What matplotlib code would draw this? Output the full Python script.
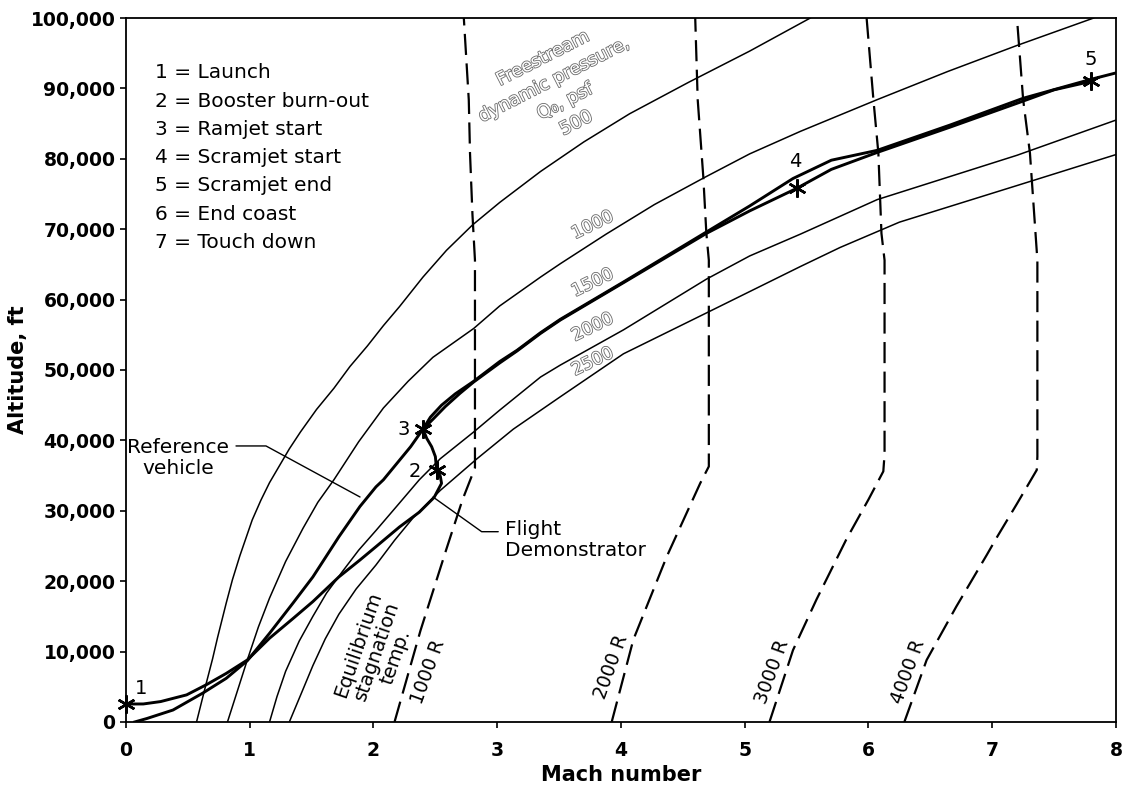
"""
Altitude vs Mach number: flight demonstrator and reference vehicle
trajectories over lines of constant dynamic pressure and constant
equilibrium stagnation temperature.
"""
import matplotlib
matplotlib.use("Agg")
import matplotlib.pyplot as plt
import matplotlib.patheffects as pe
from matplotlib.ticker import FuncFormatter

# lines of constant freestream dynamic pressure Q0, psf
q500_mach = [0.57, 0.61, 0.65, 0.70, 0.74, 0.81, 0.86, 0.92, 1.02, 1.09, 1.16, 1.24,
             1.32, 1.41, 1.54, 1.68, 1.81, 1.95, 2.08, 2.21, 2.40, 2.59, 2.80, 3.02,
             3.35, 3.70, 4.07, 4.55, 5.04, 5.53]
q500_alt = [0, 2800, 5600, 9000, 12000, 16900, 20200, 23600, 28700, 31500, 34000, 36400,
            38800, 41200, 44400, 47400, 50500, 53400, 56300, 59000, 63200, 67000, 70600, 73800,
            78200, 82400, 86400, 90900, 95300, 100000]

q1000_mach = [0.82, 0.90, 0.98, 1.07, 1.16, 1.29, 1.43, 1.55, 1.68, 1.88, 2.08, 2.28,
              2.48, 2.81, 3.02, 3.35, 3.51, 3.88, 4.27, 4.67, 5.04, 5.45, 6.07, 6.64,
              7.20, 7.82]
q1000_alt = [0, 4400, 8800, 13500, 17600, 22800, 27500, 31200, 34400, 39800, 44600, 48400,
             51800, 55900, 59100, 63200, 65100, 69300, 73500, 77300, 80700, 83900, 88400, 92400,
             96100, 100000]

q2000_mach = [1.16, 1.22, 1.29, 1.40, 1.51, 1.62, 1.75, 1.88, 2.02, 2.21, 2.37, 2.54,
              2.81, 3.02, 3.35, 3.51, 4.02, 4.69, 5.04, 5.45, 6.07, 7.20, 8.00]
q2000_alt = [0, 3600, 7200, 11500, 15000, 18300, 21400, 24400, 27200, 31100, 34400, 37400,
             41200, 44300, 49000, 50700, 55700, 62900, 66200, 69300, 74200, 80500, 85500]

q2500_mach = [1.32, 1.42, 1.51, 1.61, 1.72, 1.86, 2.02, 2.17, 2.32, 2.54, 2.83, 3.13,
              3.51, 4.02, 4.69, 5.45, 5.77, 6.25, 7.20, 8.00]
q2500_alt = [0, 4200, 8000, 11800, 15300, 18900, 22300, 25800, 29000, 32900, 37300, 41600,
             46200, 52300, 58100, 64700, 67400, 71000, 76200, 80600]

q_labels = ["1000", "1500", "2000", "2500"]
q_label_mach = [3.77, 3.77, 3.77, 3.77]
q_label_alt = [70600, 62400, 56100, 51200]

# lines of constant equilibrium stagnation temperature, deg R
t1000_mach = [2.17, 2.38, 2.59, 2.72, 2.82, 2.82, 2.80, 2.78, 2.77, 2.73]
t1000_alt = [0, 13000, 24600, 31600, 36100, 65600, 72000, 80800, 88400, 100000]

t2000_mach = [3.925, 4.10, 4.37, 4.64, 4.71, 4.71, 4.69, 4.665, 4.62, 4.60]
t2000_alt = [0, 11700, 23500, 33900, 36300, 65600, 69400, 77500, 88400, 100000]

t3000_mach = [5.20, 5.39, 5.58, 5.82, 6.00, 6.12, 6.13, 6.13, 6.105, 6.08, 6.04, 5.985]
t3000_alt = [0, 10200, 17400, 25900, 31600, 35600, 38000, 65600, 69400, 80800, 88400, 100000]

t4000_mach = [6.29, 6.47, 6.71, 6.955, 7.04, 7.20, 7.36, 7.365, 7.365, 7.35, 7.305, 7.25, 7.20]
t4000_alt = [0, 8800, 16400, 23700, 26300, 31000, 35800, 37700, 65600, 69400, 80800, 88400, 100000]

t_labels = ["1000 R", "2000 R", "3000 R", "4000 R"]
t_label_mach = [2.44, 3.92, 5.22, 6.32]
t_label_alt = [7100, 7800, 7100, 7100]

# trajectories
demo_mach = [0.0, 0.14, 0.28, 0.49, 0.65, 0.81, 0.98, 1.16, 1.35, 1.51, 1.72, 1.89,
             2.02, 2.21, 2.37, 2.49, 2.55, 2.54, 2.51, 2.50, 2.47, 2.43, 2.40, 2.48,
             2.58, 2.70, 2.81, 3.02, 3.16, 3.35, 3.51, 4.02, 4.69, 5.04, 5.42, 5.70,
             6.07, 6.66, 7.25, 7.50, 7.80]
demo_alt = [2550, 2560, 2900, 3850, 5300, 6900, 8800, 11900, 14700, 17100, 20600, 23000,
            24900, 27700, 29800, 31900, 33900, 34900, 35800, 37700, 39100, 40300, 41600, 43000,
            44800, 46700, 48300, 51000, 52700, 55200, 57100, 62400, 69400, 72600, 75800, 78500,
            80900, 84500, 88200, 89800, 91000]

ref_mach = [0.07, 0.17, 0.38, 0.62, 0.81, 0.98, 1.16, 1.35, 1.51, 1.72, 1.89, 2.02,
            2.08, 2.30, 2.40, 2.46, 2.55, 2.66, 2.81, 3.02, 3.16, 3.35, 3.51, 4.02,
            4.69, 5.04, 5.39, 5.70, 6.07, 6.66, 7.25, 7.80, 8.00]
ref_alt = [0, 500, 1700, 4100, 6200, 8700, 12600, 16900, 20600, 26300, 30600, 33400,
           34400, 39100, 41600, 43300, 45000, 46600, 48400, 51200, 52800, 55300, 57200, 62500,
           69600, 73300, 77200, 79800, 81200, 84800, 88600, 91300, 92200]

# mission events on the demonstrator trajectory
event_labels = ["1", "2", "3", "4", "5"]
event_mach = [0.0, 2.51, 2.40, 5.42, 7.80]
event_alt = [2550, 35800, 41600, 75800, 91000]
event_offsets = [(11, 11), (-16, -1), (-14, 0), (-1, 19), (0, 16)]

legend_lines = ["1 = Launch", "2 = Booster burn-out", "3 = Ramjet start",
                "4 = Scramjet start", "5 = Scramjet end", "6 = End coast",
                "7 = Touch down"]

x_ticks = [0, 1, 2, 3, 4, 5, 6, 7, 8]
y_ticks = list(range(0, 100001, 10000))


def main():
    fig = plt.figure(figsize=(11.27, 7.9), dpi=100)
    ax = fig.add_axes([0.1118, 0.0861, 0.8784, 0.8911])

    thin = dict(color="black", lw=1.1, solid_joinstyle="round")
    for m, a in [(q500_mach, q500_alt), (q1000_mach, q1000_alt),
                 (q2000_mach, q2000_alt), (q2500_mach, q2500_alt)]:
        ax.plot(m, a, **thin)

    dashed = dict(color="black", lw=1.6, dashes=(9.5, 3.8))
    for m, a in [(t1000_mach, t1000_alt), (t2000_mach, t2000_alt),
                 (t3000_mach, t3000_alt), (t4000_mach, t4000_alt)]:
        ax.plot(m, a, **dashed)

    thick = dict(color="black", lw=2.1, solid_joinstyle="round")
    ax.plot(ref_mach, ref_alt, **thick)
    ax.plot(demo_mach, demo_alt, **thick)

    # event markers (asterisks) and their numbers
    ax.plot(event_mach, event_alt, ls="none", marker=(6, 2, 0), ms=13, mew=1.8,
            color="black", clip_on=False, zorder=5)
    for lab, m, a, off in zip(event_labels, event_mach, event_alt, event_offsets):
        ax.annotate(lab, (m, a), xytext=off, textcoords="offset points",
                    ha="center", va="center", fontsize=14)

    # hollow grey labels for the dynamic pressure lines
    hollow = [pe.Stroke(linewidth=1.2, foreground="#6a6a6a"), pe.Normal()]
    ax.text(3.503, 89660, "Freestream\ndynamic pressure,\nQ\u2080, psf\n500",
            rotation=27, rotation_mode="anchor", ha="center", va="center",
            multialignment="center", linespacing=1.45, fontsize=13,
            color="white", path_effects=hollow)
    for lab, m, a in zip(q_labels, q_label_mach, q_label_alt):
        ax.text(m, a, lab, rotation=26, rotation_mode="anchor", ha="center",
                va="center", fontsize=12.5, color="white", path_effects=hollow)

    # stagnation temperature labels
    ax.text(2.028, 10090, "Equilibrium\nstagnation\ntemp.", rotation=71,
            rotation_mode="anchor", ha="center", va="center",
            multialignment="center", linespacing=1.05, fontsize=14)
    for lab, m, a in zip(t_labels, t_label_mach, t_label_alt):
        ax.text(m, a, lab, rotation=70, rotation_mode="anchor", ha="center",
                va="center", fontsize=13.5)

    # curve call-outs
    ax.text(0.424, 37500, "Reference\nvehicle", ha="center", va="center",
            multialignment="center", fontsize=14.5, linespacing=1.1)
    ax.annotate("", xy=(1.891, 31960), xytext=(0.889, 39210),
                arrowprops=dict(arrowstyle="-", lw=1.0, shrinkA=0, shrinkB=0,
                                connectionstyle="angle,angleA=0,angleB=-28.5,rad=0"))
    ax.text(3.063, 25850, "Flight\nDemonstrator", ha="left", va="center",
            fontsize=14.5, linespacing=1.1)
    ax.annotate("", xy=(2.481, 31960), xytext=(3.008, 27030),
                arrowprops=dict(arrowstyle="-", lw=1.0, shrinkA=0, shrinkB=0,
                                connectionstyle="angle,angleA=0,angleB=-35.5,rad=0"))

    # legend of event numbers
    for i, line in enumerate(legend_lines):
        ax.text(0.0295, 0.922 - i * 0.0401, line, transform=ax.transAxes,
                ha="left", va="center", fontsize=14.5)

    ax.set_xlim(0, 8)
    ax.set_ylim(0, 100000)
    ax.set_xticks(x_ticks)
    ax.set_yticks(y_ticks)
    ax.yaxis.set_major_formatter(FuncFormatter(lambda v, p: f"{int(v):,}"))
    ax.tick_params(axis="both", direction="out", length=4, width=1.2,
                   labelsize=13.5)
    ax.tick_params(axis="x", pad=10)
    ax.tick_params(axis="y", pad=3.5)
    for lbl in ax.get_xticklabels() + ax.get_yticklabels():
        lbl.set_fontweight("bold")
    for sp in ax.spines.values():
        sp.set_linewidth(1.3)

    fig.text(621 / 1127, 1 - 775 / 790, "Mach number", ha="center", va="center",
             fontsize=15, fontweight="bold")
    fig.text(18 / 1127, 1 - 370 / 790, "Altitude, ft", ha="center", va="center",
             rotation=90, fontsize=15, fontweight="bold")

    fig.savefig("out.png", dpi=100)


if __name__ == "__main__":
    main()
